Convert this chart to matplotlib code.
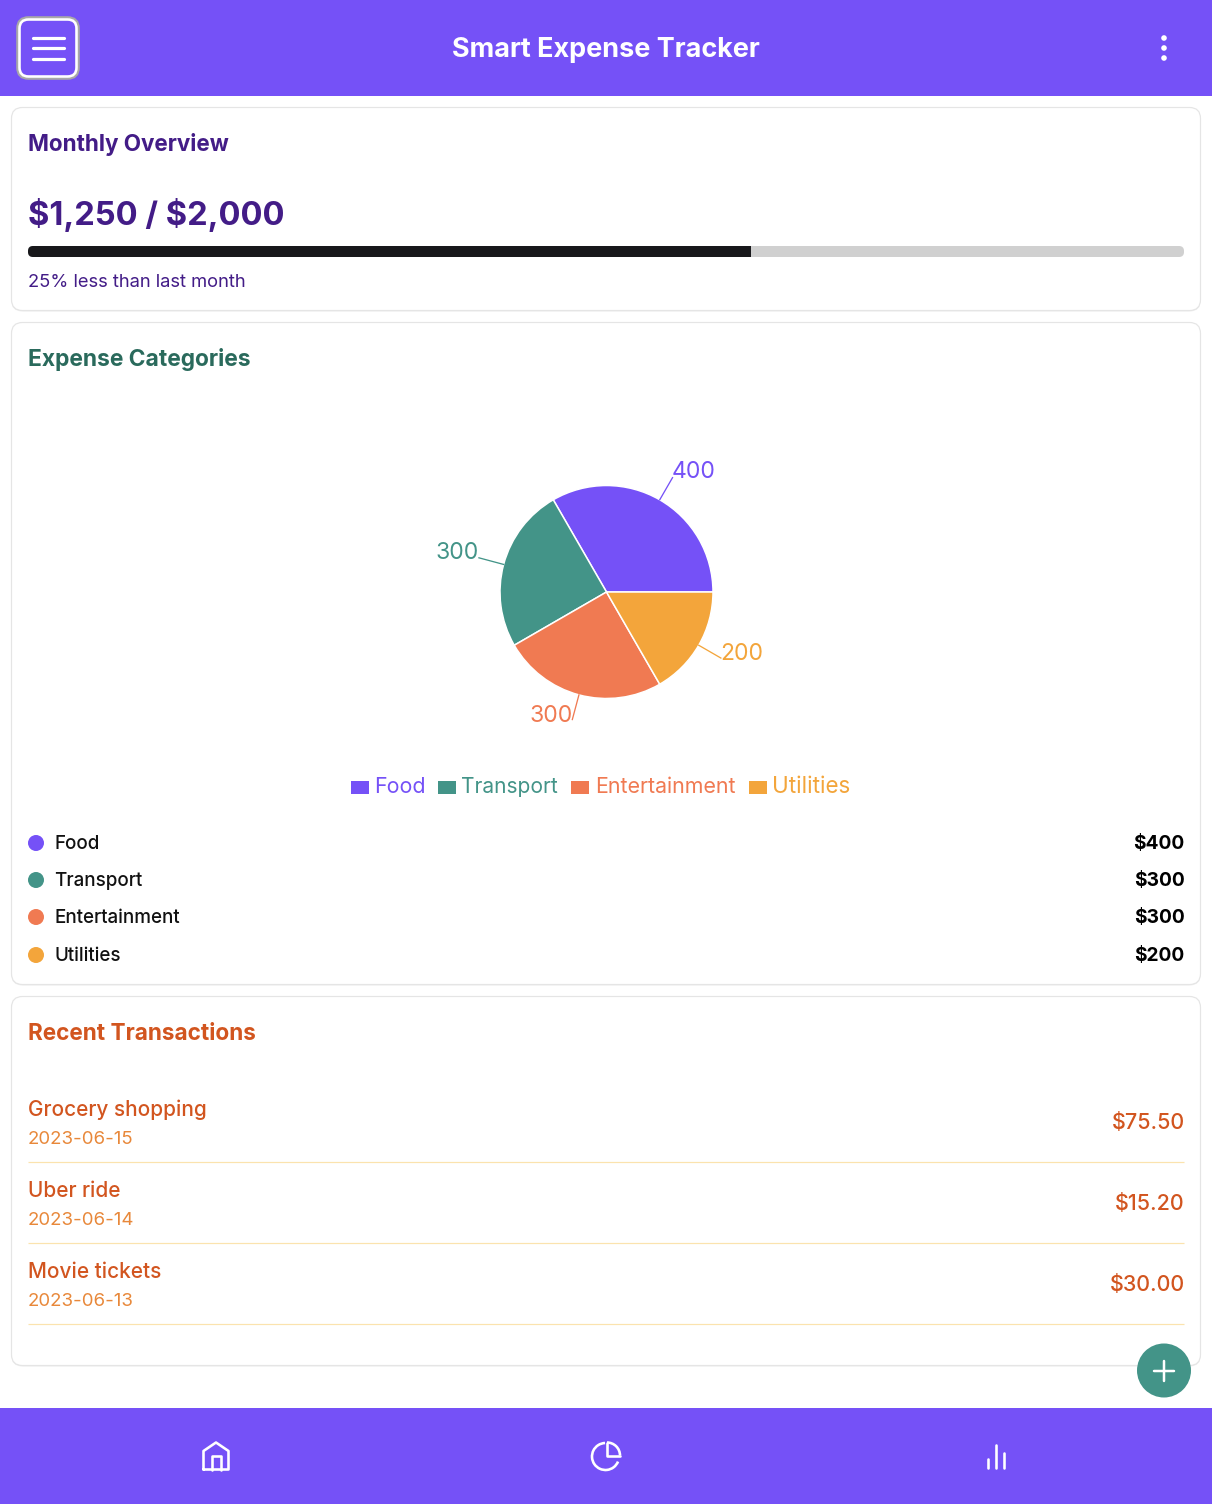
import numpy as np
import matplotlib
matplotlib.use('Agg')
import matplotlib.pyplot as plt
from matplotlib.patches import FancyBboxPatch, Rectangle, Circle, Arc

plt.rcParams['font.family'] = ['Inter', 'DejaVu Sans']

W, H = 1212, 1504

categories = ['Food', 'Transport', 'Entertainment', 'Utilities']
amounts = [400, 300, 300, 200]
cat_colors = ['#7551F7', '#439488', '#F07A52', '#F3A53B']

spent = 1250
budget = 2000

tx_names = ['Grocery shopping', 'Uber ride', 'Movie tickets']
tx_dates = ['2023-06-15', '2023-06-14', '2023-06-13']
tx_amounts = [75.50, 15.20, 30.00]

PURPLE = '#7551F7'
DARK_PURPLE = '#431C87'
GREEN = '#2A6A5C'
RUST = '#D2551F'
DATE_ORANGE = '#E8883A'
TEAL = '#439488'


def px(v):
    return v * 0.72


fig = plt.figure(figsize=(W / 100, H / 100), dpi=100, facecolor='white')
ax = fig.add_axes([0, 0, 1, 1])
ax.set_xlim(0, W)
ax.set_ylim(H, 0)
ax.axis('off')


def label(x, y, s, size, color, weight='normal', ha='left'):
    # escape the dollar so it is not read as mathtext
    ax.text(x, y, s.replace('$', r'\$'), fontsize=px(size), color=color, fontweight=weight, ha=ha, va='baseline')


def rbox(x0, y0, x1, y1, r, fc='none', ec='none', lw=0, z=1):
    p = FancyBboxPatch((x0 + r, y0 + r), x1 - x0 - 2 * r, y1 - y0 - 2 * r,
                       boxstyle='round,pad=%g,rounding_size=%g' % (r, r),
                       fc=fc, ec=ec, lw=px(lw), zorder=z)
    ax.add_patch(p)
    return p


def stroke(xs, ys, lw=2.5, color='white', z=5):
    ax.plot(xs, ys, color=color, lw=px(lw), solid_capstyle='round', solid_joinstyle='round', zorder=z)


# header
ax.add_patch(Rectangle((0, 0), W, 96, fc=PURPLE, ec='none'))
rbox(17.5, 17.5, 78.5, 78.5, 11, ec='#A8A8A8', lw=2.6, z=3)
rbox(19.5, 19.5, 76.5, 76.5, 9, ec='white', lw=2.6, z=4)
for y in [37.5, 48, 59]:
    stroke([33, 64], [y, y], lw=3.2)
label(606, 57, 'Smart Expense Tracker', 27, 'white', 'bold', ha='center')
for y in [38, 48, 58]:
    ax.add_patch(Circle((1164, y), 2.8, fc='white', ec='none', zorder=5))

# cards
for y0, y1 in [(107.5, 310.5), (322.5, 984.5), (996.5, 1365.5)]:
    rbox(11.5, y0 + 1, 1200.5, y1 + 1, 11, fc='#EDEDED', z=1)
    rbox(11.5, y0, 1200.5, y1, 11, fc='white', ec='#E5E5E5', lw=1.2, z=1)

# monthly overview
label(28, 151, 'Monthly Overview', 22.4, DARK_PURPLE, 'bold')
label(28, 225.5, '$%s / $%s' % (format(spent, ','), format(budget, ',')), 32.6, DARK_PURPLE, 'bold')
bar_x0, bar_x1 = 28, 1184
rbox(bar_x0, 246, bar_x1, 257, 5, fc='#D0D0D0', z=2)
fill_x1 = bar_x0 + (bar_x1 - bar_x0) * spent / budget
fill = rbox(bar_x0, 246, fill_x1 + 8, 257, 5, fc='#18181B', z=3)
fill.set_clip_path(Rectangle((bar_x0 - 1, 240), fill_x1 - bar_x0 + 1, 24, transform=ax.transData))
label(28, 287, '25% less than last month', 18.4, DARK_PURPLE)

# expense categories
label(28, 366, 'Expense Categories', 22.8, GREEN, 'bold')

pie_r = 106.5
half = 170
pie_ax = fig.add_axes([(606.5 - half) / W, 1 - (592 + half) / H, 2 * half / W, 2 * half / H])
wedges, _ = pie_ax.pie(amounts, colors=cat_colors, startangle=0, counterclock=True, radius=1,
                       wedgeprops={'edgecolor': 'white', 'linewidth': 1.1})
pie_ax.set_xlim(-half / pie_r, half / pie_r)
pie_ax.set_ylim(-half / pie_r, half / pie_r)
pie_ax.axis('off')
pie_ax.patch.set_alpha(0)

label_pos = [(694, 478), (457, 559), (551, 722), (742, 660)]
for w, c, v, (lx, ly) in zip(wedges, cat_colors, amounts, label_pos):
    mid = np.deg2rad((w.theta1 + w.theta2) / 2)
    pie_ax.plot([np.cos(mid), 1.24 * np.cos(mid)], [np.sin(mid), 1.24 * np.sin(mid)], color=c, lw=px(1.3))
    label(lx, ly, str(v), 23, c, ha='center')

# chart legend
legend_box_x = [351, 438, 571, 749]
legend_text_x = [374.5, 461.5, 595, 772.5]
legend_size = [21.5, 21, 21.4, 22.4]
for name, c, bx, tx, fs in zip(categories, cat_colors, legend_box_x, legend_text_x, legend_size):
    ax.add_patch(Rectangle((bx, 781), 18, 13, fc=c, ec='none', zorder=3))
    label(tx, 793, name, fs, c)

# category list
row_y = [850, 887, 924, 962]
for name, v, c, y in zip(categories, amounts, cat_colors, row_y):
    ax.add_patch(Circle((36, y - 7), 8, fc=c, ec='none', zorder=3))
    label(54, y - 1, name, 18.8, '#111111', '500')
    label(1184.5, y - 1, '$%d' % v, 19.2, 'black', 'bold', ha='right')

# transactions
label(28, 1040, 'Recent Transactions', 22.6, RUST, 'bold')
tx_top = [1116, 1197, 1278]
for name, date, amt, y in zip(tx_names, tx_dates, tx_amounts, tx_top):
    label(28, y, name, 20.8, RUST, '500')
    label(28, y + 28, date, 18.7, DATE_ORANGE)
    label(1185, y + 13, '$%.2f' % amt, 21.5, RUST, '500', ha='right')
    ax.plot([28, 1184], [y + 46, y + 46], color='#FBE3AE', lw=px(1.2), zorder=2, solid_capstyle='butt')

# bottom nav
ax.add_patch(Rectangle((0, 1408), W, 96, fc=PURPLE, ec='none'))
stroke([203.5, 203.5, 216, 228.5, 228.5, 203.5], [1469.5, 1451, 1442.5, 1451, 1469.5, 1469.5], lw=2.6)
stroke([211.5, 211.5, 220.5, 220.5], [1469.5, 1456, 1456, 1469.5], lw=2.6)
ax.add_patch(Arc((605.5, 1456.5), 27, 27, theta1=22, theta2=268, ec='white', lw=px(2.6), zorder=5))
ax.add_patch(Arc((607, 1455.5), 26, 26, theta1=270, theta2=360, ec='white', lw=px(2.6), zorder=5))
stroke([607, 607, 620], [1442.5, 1455.5, 1455.5], lw=2.6)
stroke([988, 988], [1459, 1467.5], lw=2.6)
stroke([996, 996], [1445, 1467.5], lw=2.6)
stroke([1004, 1004], [1453, 1467.5], lw=2.6)

# add button
ax.add_patch(Circle((1164, 1370.5), 27, fc=TEAL, ec='none', zorder=6))
stroke([1154, 1174], [1370.5, 1370.5], lw=2.5, z=7)
stroke([1164, 1164], [1360.5, 1380.5], lw=2.5, z=7)

fig.savefig('out.png', dpi=100)
